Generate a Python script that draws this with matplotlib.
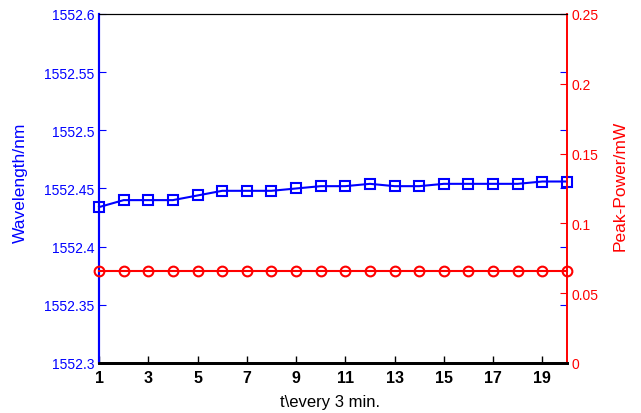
import matplotlib
matplotlib.use("Agg")
import matplotlib.pyplot as plt

plt.rcParams['font.family'] = ['Liberation Sans', 'DejaVu Sans']

t = list(range(1, 21))
wavelength = [1552.434, 1552.440, 1552.440, 1552.440, 1552.444, 1552.448, 1552.448, 1552.448,
              1552.450, 1552.452, 1552.452, 1552.454, 1552.452, 1552.452, 1552.454, 1552.454,
              1552.454, 1552.454, 1552.456, 1552.456]
peak_power = [0.066] * 20
xticks = [1, 3, 5, 7, 9, 11, 13, 15, 17, 19]
yticks_left = [1552.3, 1552.35, 1552.4, 1552.45, 1552.5, 1552.55, 1552.6]
yticks_right = [0, 0.05, 0.1, 0.15, 0.2, 0.25]

fig = plt.figure(figsize=(6.41, 4.14), dpi=100)
ax = fig.add_axes([0.1545, 0.1208, 0.73, 0.843])
ax2 = ax.twinx()

ax.plot(t, wavelength, color='blue', marker='s', markersize=7, markerfacecolor='none',
        markeredgewidth=1.5, linewidth=1.5, clip_on=False, zorder=5)
ax2.plot(t, peak_power, color='red', marker='o', markersize=7, markerfacecolor='none',
         markeredgewidth=1.5, linewidth=1.5, clip_on=False, zorder=5)

ax.set_xlim(1, 20)
ax.set_ylim(1552.3, 1552.6)
ax2.set_ylim(0, 0.25)
ax.set_xticks(xticks)
ax.set_xticklabels([str(v) for v in xticks], fontweight='bold', fontsize=11.5)
ax.set_yticks(yticks_left)
ax.set_yticklabels(['1552.3', '1552.35', '1552.4', '1552.45', '1552.5', '1552.55', '1552.6'])
ax2.set_yticks(yticks_right)
ax2.set_yticklabels(['0', '0.05', '0.1', '0.15', '0.2', '0.25'])

ax.tick_params(axis='y', colors='blue', direction='in', right=True, labelsize=10, length=5)
ax.tick_params(axis='x', direction='in', top=False, length=5, width=1, pad=5)
ax2.tick_params(axis='y', colors='red', direction='in', labelsize=10, length=5)

xl = ax.set_xlabel('t\\every 3 min.', fontsize=12)
xl.set_verticalalignment('center')
ax.xaxis.set_label_coords(0.494, -0.109)
yl = ax.set_ylabel('Wavelength/nm', color='blue', fontsize=12.5)
yl.set_verticalalignment('center')
ax.yaxis.set_label_coords(-0.169, 0.519)
yr = ax2.set_ylabel('Peak-Power/mW', color='red', fontsize=12.5)
yr.set_verticalalignment('center')
ax2.yaxis.set_label_coords(1.113, 0.51)

for a in (ax, ax2):
    a.spines['left'].set_color('blue')
    a.spines['right'].set_color('red')
    a.spines['top'].set_color('black')
    a.spines['bottom'].set_color('black')
    a.spines['bottom'].set_linewidth(2)
    a.spines['left'].set_linewidth(1.5)
    a.spines['right'].set_linewidth(1.2)

fig.savefig('out.png', dpi=100)
